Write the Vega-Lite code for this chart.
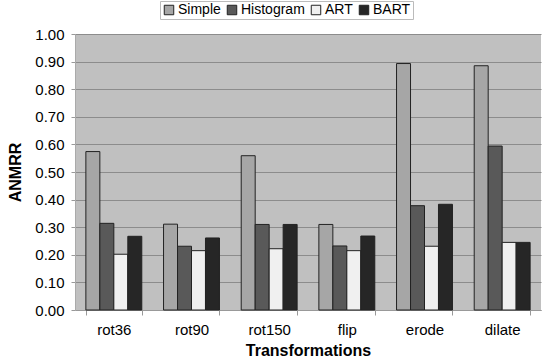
{
  "$schema": "https://vega.github.io/schema/vega-lite/v6.json",
  "width": 466,
  "height": 276,
  "autosize": {"type": "none"},
  "padding": {"left": 75, "top": 34, "right": 1, "bottom": 52},
  "background": "white",
  "config": {
    "font": "Liberation Sans",
    "view": {"fill": "#c0c0c0", "stroke": null}
  },
  "data": {
    "values": [
      {"t": "rot36", "method": "Simple", "v": 0.574},
      {"t": "rot36", "method": "Histogram", "v": 0.314},
      {"t": "rot36", "method": "ART", "v": 0.202},
      {"t": "rot36", "method": "BART", "v": 0.267},
      {"t": "rot90", "method": "Simple", "v": 0.311},
      {"t": "rot90", "method": "Histogram", "v": 0.231},
      {"t": "rot90", "method": "ART", "v": 0.215},
      {"t": "rot90", "method": "BART", "v": 0.261},
      {"t": "rot150", "method": "Simple", "v": 0.559},
      {"t": "rot150", "method": "Histogram", "v": 0.31},
      {"t": "rot150", "method": "ART", "v": 0.222},
      {"t": "rot150", "method": "BART", "v": 0.31},
      {"t": "flip", "method": "Simple", "v": 0.31},
      {"t": "flip", "method": "Histogram", "v": 0.232},
      {"t": "flip", "method": "ART", "v": 0.215},
      {"t": "flip", "method": "BART", "v": 0.268},
      {"t": "erode", "method": "Simple", "v": 0.893},
      {"t": "erode", "method": "Histogram", "v": 0.378},
      {"t": "erode", "method": "ART", "v": 0.231},
      {"t": "erode", "method": "BART", "v": 0.383},
      {"t": "dilate", "method": "Simple", "v": 0.885},
      {"t": "dilate", "method": "Histogram", "v": 0.594},
      {"t": "dilate", "method": "ART", "v": 0.245},
      {"t": "dilate", "method": "BART", "v": 0.245}
    ]
  },
  "mark": {"type": "bar", "stroke": "#222222", "strokeWidth": 1},
  "encoding": {
    "x": {
      "field": "t",
      "type": "nominal",
      "sort": ["rot36", "rot90", "rot150", "flip", "erode", "dilate"],
      "scale": {"paddingInner": 0.28, "paddingOuter": 0.14},
      "axis": {
        "title": "Transformations",
        "titleFontSize": 16,
        "titleFontWeight": "bold",
        "titleColor": "black",
        "titlePadding": 5,
        "labelAngle": 0,
        "labelFontSize": 15,
        "labelColor": "black",
        "labelPadding": 7,
        "tickBand": "extent",
        "tickColor": "#999999",
        "tickSize": 5,
        "domainColor": "#999999",
        "grid": false
      }
    },
    "xOffset": {
      "field": "method",
      "type": "nominal",
      "sort": ["Simple", "Histogram", "ART", "BART"],
      "scale": {"paddingInner": 0, "paddingOuter": 0}
    },
    "y": {
      "field": "v",
      "type": "quantitative",
      "scale": {"domain": [0, 1], "nice": false},
      "axis": {
        "title": "ANMRR",
        "titleFontSize": 16,
        "titleFontWeight": "bold",
        "titleColor": "black",
        "titlePadding": 11,
        "format": ".2f",
        "values": [0, 0.1, 0.2, 0.3, 0.4, 0.5, 0.6, 0.7, 0.8, 0.9, 1.0],
        "labelOverlap": false,
        "labelFontSize": 15,
        "labelColor": "black",
        "labelPadding": 7,
        "tickColor": "#999999",
        "tickSize": 4,
        "domainColor": "#aaaaaa",
        "gridColor": "#8c8c8c",
        "gridWidth": 1
      }
    },
    "color": {
      "field": "method",
      "type": "nominal",
      "sort": ["Simple", "Histogram", "ART", "BART"],
      "scale": {
        "domain": ["Simple", "Histogram", "ART", "BART"],
        "range": ["#a6a6a6", "#595959", "#f0f0f0", "#262626"]
      },
      "legend": {
        "title": null,
        "orient": "none",
        "legendX": 85,
        "legendY": -33,
        "direction": "horizontal",
        "columns": 4,
        "symbolType": "square",
        "symbolSize": 90,
        "symbolStrokeColor": "#222222",
        "symbolStrokeWidth": 1,
        "symbolOpacity": 1,
        "labelFontSize": 14,
        "labelColor": "black",
        "labelOffset": 2,
        "columnPadding": 4,
        "fillColor": "white",
        "strokeColor": "#bbbbbb",
        "padding": 2
      }
    }
  }
}
